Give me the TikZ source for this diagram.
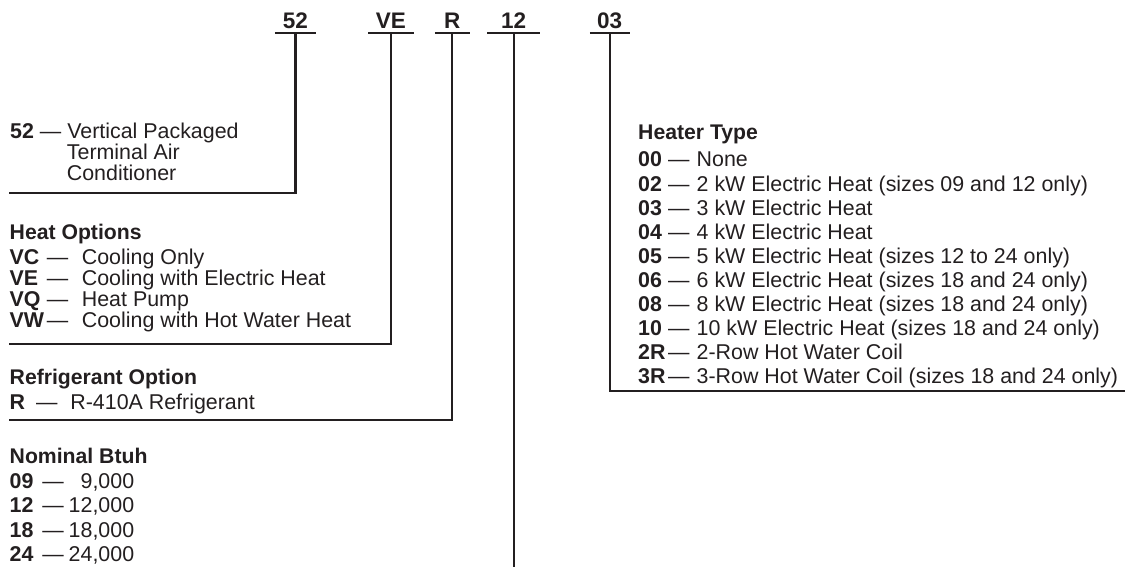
\documentclass[tikz,border=0pt]{standalone}
\usepackage{fontspec}
\setmainfont{Liberation Sans}
\definecolor{ink}{HTML}{231F20}
\newcommand\hrow[4]{\makebox[#1][l]{\bfseries #3}\makebox[#2][l]{—}#4}
\newcommand\nrow[2]{\makebox[32.6pt][l]{\bfseries #1}\makebox[21.4pt][l]{—}\makebox[70.5pt][r]{#2}}
\tikzset{
  lead/.style={draw=ink, line width=2.4pt, line join=miter},
  txt/.style={inner sep=0pt, anchor=base west, text=ink, font=\fontsize{21.4}{21.4}\selectfont},
  head/.style={txt, font=\fontsize{21.2}{21.2}\selectfont\bfseries},
  code/.style={inner xsep=0pt, inner ysep=4pt, anchor=south, text=ink, font=\fontsize{22.5}{22.5}\selectfont\bfseries},
}
\begin{document}
\begin{tikzpicture}[x=1pt,y=-1pt]
\useasboundingbox (0,0) rectangle (1125,567);
% top code nodes
\node[code, minimum width=41pt]   (c52) at (295.5,33) {52};
\node[code, minimum width=45pt]   (cVE) at (390.8,33) {VE};
\node[code, minimum width=34.3pt] (cR)  at (452.2,33) {R};
\node[code, minimum width=52.7pt] (c12) at (513.7,33) {12};
\node[code, minimum width=39.3pt] (c03) at (609.7,33) {03};
\foreach \n in {c52,cVE,cR,c12,c03}{\draw[lead] (\n.south west) -- (\n.south east);}
% end points of the leads
\coordinate (e52) at (8.5,193);
\coordinate (eVE) at (8.5,344);
\coordinate (eR)  at (8.5,420);
\coordinate (e12) at (513.7,567);
\coordinate (e03) at (1125,391);
\draw[lead] (c52.south) |- (e52);
\draw[lead] (cVE.south) |- (eVE);
\draw[lead] (cR.south)  |- (eR);
\draw[lead] (c12.south) -- (e12);
\draw[lead] (c03.south) |- (e03);
% 52 block
\node[txt] (t52a) at (10,138.3) {\textbf{52} — Vertical Packaged};
\node[txt] (t52b) at (66.7,159.5) {Terminal Air};
\node[txt] (t52c) at (66.7,180.7) {Conditioner};
% heat options
\node[head] (hho) at (9.5,239.3) {Heat Options};
\node[txt] (hvc) at (9.5,264)   {\hrow{37.2pt}{35pt}{VC}{Cooling Only}};
\node[txt] (hve) at (9.5,285.2) {\hrow{37.2pt}{35pt}{VE}{Cooling with Electric Heat}};
\node[txt] (hvq) at (9.5,306.4) {\hrow{37.2pt}{35pt}{VQ}{Heat Pump}};
\node[txt] (hvw) at (9.5,327.6) {\hrow{37.2pt}{35pt}{VW}{Cooling with Hot Water Heat}};
% refrigerant
\node[head] (hro) at (9.5,384.3) {Refrigerant Option};
\node[txt] (rr) at (9.5,409.3) {\hrow{26.5pt}{34.2pt}{R}{R-410A Refrigerant}};
% nominal btuh
\node[head] (hnb) at (9.5,463) {Nominal Btuh};
\node[txt] (n09) at (9.5,488)   {\nrow{09}{9,000}};
\node[txt] (n12) at (9.5,512.5) {\nrow{12}{12,000}};
\node[txt] (n18) at (9.5,537)   {\nrow{18}{18,000}};
\node[txt] (n24) at (9.5,561.5) {\nrow{24}{24,000}};
% heater type
\node[head] (hht) at (638,139.5) {Heater Type};
\node[txt] (h00) at (638,167) {\hrow{30pt}{28.5pt}{00}{None}};
\node[txt] (h02) at (638,191) {\hrow{30pt}{28.5pt}{02}{2 kW Electric Heat (sizes 09 and 12 only)}};
\node[txt] (h03) at (638,215) {\hrow{30pt}{28.5pt}{03}{3 kW Electric Heat}};
\node[txt] (h04) at (638,239) {\hrow{30pt}{28.5pt}{04}{4 kW Electric Heat}};
\node[txt] (h05) at (638,263) {\hrow{30pt}{28.5pt}{05}{5 kW Electric Heat (sizes 12 to 24 only)}};
\node[txt] (h06) at (638,287) {\hrow{30pt}{28.5pt}{06}{6 kW Electric Heat (sizes 18 and 24 only)}};
\node[txt] (h08) at (638,311) {\hrow{30pt}{28.5pt}{08}{8 kW Electric Heat (sizes 18 and 24 only)}};
\node[txt] (h10) at (638,335) {\hrow{30pt}{28.5pt}{10}{10 kW Electric Heat (sizes 18 and 24 only)}};
\node[txt] (h2r) at (638,359) {\hrow{30pt}{28.5pt}{2R}{2-Row Hot Water Coil}};
\node[txt] (h3r) at (638,383) {\hrow{30pt}{28.5pt}{3R}{3-Row Hot Water Coil (sizes 18 and 24 only)}};
\end{tikzpicture}
\end{document}
